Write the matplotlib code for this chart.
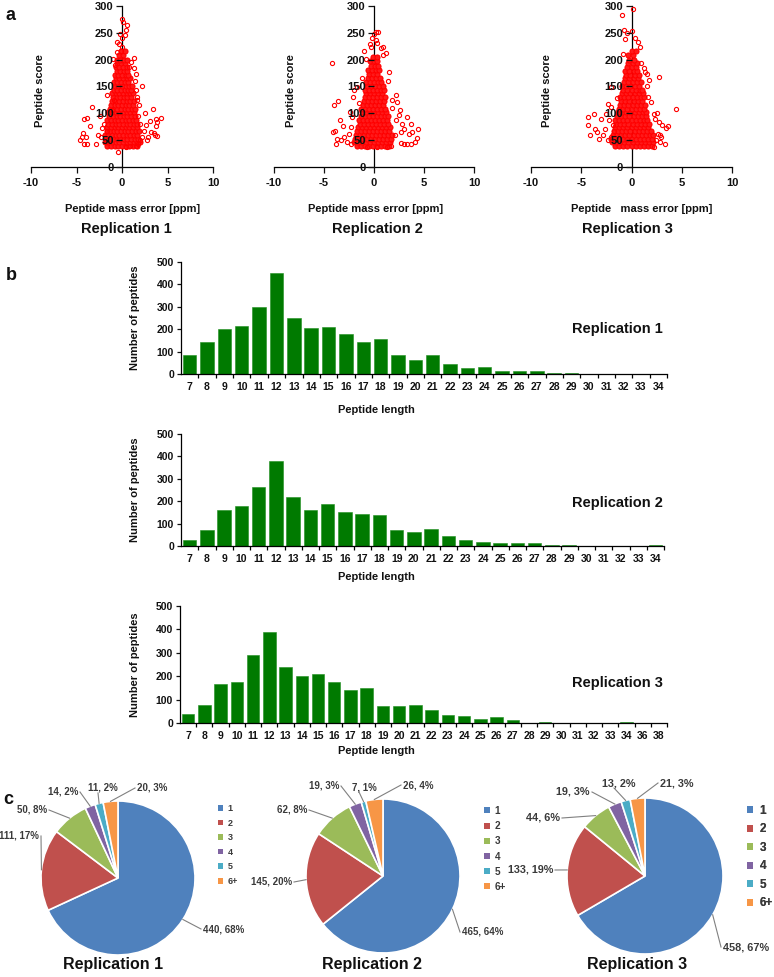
import numpy as np
import matplotlib
matplotlib.use("Agg")
import matplotlib.pyplot as plt
from matplotlib import font_manager
from matplotlib.patches import Patch

# ======================= DATA =======================
# (a) Peptide score vs mass error: dense core rows + outliers
rep1_core_y = [40, 46, 53, 60, 67, 74, 81, 88, 95, 102, 109, 116, 123, 130, 137,
               144, 151, 158, 165, 172, 179, 186, 193, 200, 208, 216]
rep1_core_x = [
    [-1.6, -1.2, -0.8, -0.4, 0.0, 0.4, 0.8, 1.2, 1.6],
    [-1.9, -1.5, -1.1, -0.7, -0.3, 0.1, 0.5, 0.9, 1.3, 1.7, 2.0],
    [-1.8, -1.4, -1.0, -0.6, -0.2, 0.2, 0.6, 1.0, 1.4, 1.8],
    [-1.9, -1.5, -1.1, -0.7, -0.3, 0.1, 0.5, 0.9, 1.3, 1.7],
    [-1.7, -1.3, -0.9, -0.5, -0.1, 0.3, 0.7, 1.1, 1.5, 1.9],
    [-1.6, -1.2, -0.8, -0.4, 0.0, 0.4, 0.8, 1.2, 1.6],
    [-1.5, -1.1, -0.7, -0.3, 0.1, 0.5, 0.9, 1.3, 1.7],
    [-1.6, -1.2, -0.8, -0.4, 0.0, 0.4, 0.8, 1.2, 1.5],
    [-1.4, -1.0, -0.6, -0.2, 0.2, 0.6, 1.0, 1.4],
    [-1.5, -1.1, -0.7, -0.3, 0.1, 0.5, 0.9, 1.3],
    [-1.3, -0.9, -0.5, -0.1, 0.3, 0.7, 1.1, 1.4],
    [-1.2, -0.8, -0.4, 0.0, 0.4, 0.8, 1.2],
    [-1.1, -0.7, -0.3, 0.1, 0.5, 0.9, 1.3],
    [-1.0, -0.6, -0.2, 0.2, 0.6, 1.0],
    [-1.1, -0.7, -0.3, 0.1, 0.5, 0.9, 1.2],
    [-0.9, -0.5, -0.1, 0.3, 0.7, 1.0],
    [-0.8, -0.4, 0.0, 0.4, 0.8, 1.1],
    [-0.9, -0.5, -0.1, 0.3, 0.7],
    [-0.7, -0.3, 0.1, 0.5, 0.9],
    [-0.8, -0.4, 0.0, 0.4, 0.7],
    [-0.6, -0.2, 0.2, 0.6],
    [-0.7, -0.3, 0.1, 0.5],
    [-0.5, -0.1, 0.3],
    [-0.6, -0.2, 0.2, 0.5],
    [-0.3, 0.1],
    [-0.1, 0.3],
]
rep1_out_x = [0.0, 0.07, 0.55, 0.44, -0.2, 0.3, -0.6, 0.0, -0.5, -0.15,
              1.35, -1.0, 2.2, 1.5, 1.6, 3.4, 4.3, 3.7, 3.9, 3.7,
              3.1, 3.5, 3.2, 3.8, 3.6, 2.9, 2.7, -3.25, -3.8, -4.2,
              -3.5, -4.3, -4.4, -4.6, -4.2, -3.8, -4.0, -2.9, -2.3, -1.8,
              -0.4, -1.7, -2.0, -0.9, -1.05, 2.0, 2.4, 2.2, 1.7, 1.5,
              1.4, 0.8, 0.95, 0.0, -0.3, 1.75, 2.0, 1.5, 0.85, 0.4,
              2.5, -2.4, 1.9, -1.6, 1.3, -0.8, 2.6, -2.6, 1.8, -2.2]
rep1_out_y = [275, 270, 264, 255, 248, 246, 233, 241, 214, 217,
              204, 202, 150, 173, 130, 109, 92, 90, 83, 76,
              86, 63, 66, 57, 60, 55, 50, 111, 92, 89,
              76, 64, 55, 50, 43, 43, 56, 43, 56, 47,
              28, 68, 81, 124, 106, 81, 68, 56, 124, 143,
              161, 186, 196, 224, 230, 43, 50, 40, 40, 38,
              100, 95, 115, 135, 185, 190, 78, 60, 95, 72]

rep2_core_y = [40, 46, 53, 60, 67, 74, 81, 88, 95, 102, 109, 116, 123, 130, 137,
               144, 151, 158, 165, 173, 181, 189, 197, 205]
rep2_core_x = [
    [-1.7, -1.3, -0.9, -0.5, -0.1, 0.3, 0.7, 1.1, 1.5],
    [-2.0, -1.6, -1.2, -0.8, -0.4, 0.0, 0.4, 0.8, 1.2, 1.6],
    [-1.9, -1.5, -1.1, -0.7, -0.3, 0.1, 0.5, 0.9, 1.3, 1.7],
    [-1.8, -1.4, -1.0, -0.6, -0.2, 0.2, 0.6, 1.0, 1.4, 1.8],
    [-1.7, -1.3, -0.9, -0.5, -0.1, 0.3, 0.7, 1.1, 1.5],
    [-1.6, -1.2, -0.8, -0.4, 0.0, 0.4, 0.8, 1.2, 1.6],
    [-1.4, -1.0, -0.6, -0.2, 0.2, 0.6, 1.0, 1.4],
    [-1.5, -1.1, -0.7, -0.3, 0.1, 0.5, 0.9, 1.3],
    [-1.3, -0.9, -0.5, -0.1, 0.3, 0.7, 1.1, 1.4],
    [-1.2, -0.8, -0.4, 0.0, 0.4, 0.8, 1.2],
    [-1.3, -0.9, -0.5, -0.1, 0.3, 0.7, 1.1],
    [-1.1, -0.7, -0.3, 0.1, 0.5, 0.9],
    [-1.0, -0.6, -0.2, 0.2, 0.6, 1.0],
    [-0.9, -0.5, -0.1, 0.3, 0.7, 1.1],
    [-0.8, -0.4, 0.0, 0.4, 0.8],
    [-0.9, -0.5, -0.1, 0.3, 0.7, 1.0],
    [-0.7, -0.3, 0.1, 0.5, 0.9],
    [-0.8, -0.4, 0.0, 0.4, 0.7],
    [-0.6, -0.2, 0.2, 0.6],
    [-0.5, -0.1, 0.3],
    [-0.6, -0.2, 0.2, 0.5],
    [-0.3, 0.1, 0.4],
    [-0.4, 0.0, 0.3],
    [-0.1, 0.3],
]
rep2_out_x = [0.23, 0.0, 0.43, -0.17, 0.17, 0.33, 0.67, 0.87, -0.4, -0.27,
              1.17, 0.93, -4.17, 1.5, -1.0, -0.83, 2.17, 1.83, 2.33, 2.6,
              2.5, 3.33, 3.67, 4.4, 2.83, 3.0, 2.67, 3.83, 3.5, 4.33,
              4.07, 3.67, 3.33, 3.0, 2.67, -3.6, -4.0, -3.4, -3.1, -3.93,
              -4.07, -3.67, -3.8, -3.33, -3.0, -2.67, -2.33, -2.0, -2.07, -1.67,
              -2.4, -2.17, 1.67, 1.33, 0.33, -0.67,
              2.2, -2.3, 1.8, -1.5, 2.1, -2.5, 1.4, -1.2]
rep2_out_y = [252, 248, 252, 241, 236, 231, 222, 223, 230, 224,
              213, 208, 194, 177, 217, 202, 134, 124, 121, 106,
              96, 94, 81, 71, 81, 71, 65, 65, 62, 54,
              47, 43, 42, 43, 44, 123, 116, 87, 76, 68,
              65, 53, 43, 50, 56, 47, 42, 143, 130, 149,
              102, 93, 40, 37, 37, 37,
              88, 75, 110, 120, 60, 62, 160, 165]

rep3_core_y = [40, 46, 53, 60, 67, 74, 81, 88, 95, 102, 109, 116, 123, 130, 137,
               144, 151, 158, 165, 172, 179, 186, 193, 200, 208, 216]
rep3_core_x = [
    [-1.6, -1.2, -0.8, -0.4, 0.0, 0.4, 0.8, 1.2, 1.6, 2.0],
    [-1.9, -1.5, -1.1, -0.7, -0.3, 0.1, 0.5, 0.9, 1.3, 1.7, 2.1],
    [-2.0, -1.6, -1.2, -0.8, -0.4, 0.0, 0.4, 0.8, 1.2, 1.6, 2.0],
    [-1.8, -1.4, -1.0, -0.6, -0.2, 0.2, 0.6, 1.0, 1.4, 1.8, 2.1],
    [-1.7, -1.3, -0.9, -0.5, -0.1, 0.3, 0.7, 1.1, 1.5, 1.9],
    [-1.6, -1.2, -0.8, -0.4, 0.0, 0.4, 0.8, 1.2, 1.6],
    [-1.5, -1.1, -0.7, -0.3, 0.1, 0.5, 0.9, 1.3, 1.7],
    [-1.6, -1.2, -0.8, -0.4, 0.0, 0.4, 0.8, 1.2, 1.5],
    [-1.4, -1.0, -0.6, -0.2, 0.2, 0.6, 1.0, 1.4],
    [-1.3, -0.9, -0.5, -0.1, 0.3, 0.7, 1.1, 1.4],
    [-1.2, -0.8, -0.4, 0.0, 0.4, 0.8, 1.2],
    [-1.1, -0.7, -0.3, 0.1, 0.5, 0.9, 1.3],
    [-1.0, -0.6, -0.2, 0.2, 0.6, 1.0],
    [-1.1, -0.7, -0.3, 0.1, 0.5, 0.9, 1.2],
    [-0.9, -0.5, -0.1, 0.3, 0.7, 1.1],
    [-0.8, -0.4, 0.0, 0.4, 0.8, 1.0],
    [-0.9, -0.5, -0.1, 0.3, 0.7],
    [-0.7, -0.3, 0.1, 0.5, 0.9],
    [-0.6, -0.2, 0.2, 0.6],
    [-0.5, -0.1, 0.3, 0.7],
    [-0.6, -0.2, 0.2, 0.5],
    [-0.4, 0.0, 0.4],
    [-0.3, 0.1, 0.5],
    [-0.2, 0.2],
    [-0.3, 0.1],
    [0.0, 0.4],
]
rep3_out_x = [0.1, -0.95, -0.72, -0.46, 0.0, -0.62, 0.33, 0.65, 0.85, -0.85,
              0.92, 1.24, 1.73, 2.7, 1.3, 1.57, -2.03, 1.9, 2.2, 2.55,
              4.44, 2.7, 3.04, 3.46, 3.6, 2.6, 2.8, 2.94, 3.37, 2.88,
              2.22, -4.3, -4.36, -3.73, -3.0, -3.66, -4.15, -3.4, -3.27, -2.84,
              -2.6, -2.35, -2.03, -2.5, -2.03, -2.35, -1.86, -1.7,
              2.3, -2.2, 1.6, -1.4, 2.4, 1.5]
rep3_out_y = [294, 284, 256, 250, 253, 239, 241, 232, 224, 211,
              193, 184, 163, 168, 177, 173, 149, 121, 99, 101,
              109, 84, 78, 73, 76, 62, 59, 56, 42, 47,
              37, 93, 79, 98, 90, 70, 60, 65, 53, 60,
              71, 50, 56, 99, 112, 118, 78, 68,
              90, 88, 130, 128, 50, 150]

# (b) Peptide length distributions
rep1_lengths = [str(v) for v in range(7, 35)]
rep1_counts = [85, 141, 199, 214, 298, 452, 248, 207, 210, 179, 144, 155, 85, 64,
               85, 43, 25, 30, 12, 12, 12, 4, 4, 0, 0, 0, 0, 0]
rep2_lengths = [str(v) for v in range(7, 35)]
rep2_counts = [28, 70, 161, 179, 262, 378, 220, 161, 189, 153, 144, 140, 70, 64,
               74, 46, 25, 18, 12, 12, 12, 4, 4, 0, 0, 0, 0, 4]
rep3_lengths = [str(v) for v in range(7, 35)] + ["36", "38"]
rep3_counts = [38, 78, 165, 175, 292, 390, 238, 201, 208, 175, 140, 148, 74, 74,
               78, 56, 34, 31, 17, 24, 13, 0, 5, 0, 0, 0, 0, 4, 0, 0]

# (c) pie categories
pie_labels = ["1", "2", "3", "4", "5", "6+"]
rep1_pie = [440, 111, 50, 14, 11, 20]
rep1_pct = [68, 17, 8, 2, 2, 3]
rep2_pie = [465, 145, 62, 19, 7, 26]
rep2_pct = [64, 20, 8, 3, 1, 4]
rep3_pie = [458, 133, 44, 19, 13, 21]
rep3_pct = [67, 19, 6, 3, 2, 3]
pie_colors = ["#4F81BD", "#C0504D", "#9BBB59", "#8064A2", "#4BACC6", "#F79646"]

# ======================= STYLE / LAYOUT =======================
W, H = 774, 977
names = {f.name for f in font_manager.fontManager.ttflist}
BASE = "Liberation Sans" if "Liberation Sans" in names else "DejaVu Sans"
plt.rcParams["font.family"] = [BASE, "DejaVu Sans"]
plt.rcParams["font.weight"] = "bold"
plt.rcParams["axes.labelweight"] = "bold"
plt.rcParams["axes.unicode_minus"] = False
plt.rcParams["axes.linewidth"] = 0.9
TXT = "#111111"

fig = plt.figure(figsize=(W / 100, H / 100), dpi=100)


def ax_px(l, t, r, b):
    return fig.add_axes([l / W, 1 - b / H, (r - l) / W, (b - t) / H])


def ftext(x, y, s, **kw):
    fig.text(x / W, 1 - y / H, s, **kw)


def flatten_rows(core_y, core_x):
    xs, ys = [], []
    for y, row in zip(core_y, core_x):
        for x in row:
            xs.append(x)
            ys.append(y)
    return xs, ys


# ---------------- (a) scatter panels ----------------
scatter_sets = [
    (flatten_rows(rep1_core_y, rep1_core_x), (rep1_out_x, rep1_out_y), 31, 213, 40, 133,
     "Peptide mass error [ppm]", 126, "Replication 1"),
    (flatten_rows(rep2_core_y, rep2_core_x), (rep2_out_x, rep2_out_y), 274, 474, 291, 376,
     "Peptide mass error [ppm]", 377, "Replication 2"),
    (flatten_rows(rep3_core_y, rep3_core_x), (rep3_out_x, rep3_out_y), 531, 732, 547, 642,
     "Peptide   mass error [ppm]", 627, "Replication 3"),
]
for (cx_, cy_), (ox, oy), l, r, ylx, xlx, xlab, tx, title in scatter_sets:
    ax = ax_px(l, 6, r, 167)
    ax.patch.set_alpha(0)
    ax.plot(cx_, cy_, "o", ms=3.6, mfc="#FF1A1A", mec="#FF0000", mew=0.8,
            zorder=2, clip_on=False)
    ax.plot(ox, oy, "o", ms=3.0, mfc="none", mec="#FF0000", mew=0.8,
            zorder=2, clip_on=False)
    ax.set_xlim(-10, 10)
    ax.set_ylim(0, 300)
    ax.spines["left"].set_position(("data", 0))
    ax.spines["left"].set_zorder(1)
    ax.spines[["top", "right"]].set_visible(False)
    ax.set_axisbelow(False)
    ax.set_xticks([-10, -5, 0, 5, 10])
    ax.set_yticks(range(0, 301, 50))
    ax.tick_params(direction="out", length=4, width=0.9, labelsize=8,
                   pad=2, colors=TXT)
    ax.tick_params(axis="x", pad=4)
    ftext(ylx, 91, "Peptide score", rotation=90, ha="center", va="center",
          fontsize=8, color=TXT)
    ftext(xlx, 209, xlab, ha="center", va="center", fontsize=8, color=TXT)
    ftext(tx, 229, title, ha="center", va="center", fontsize=10.5, color=TXT)

ftext(10, 15, "a", ha="center", va="center", fontsize=13, color=TXT)

# ---------------- (b) bar panels ----------------
bar_sets = [
    (rep1_lengths, rep1_counts, (181, 262, 667, 374), 410, 329, "Replication 1"),
    (rep2_lengths, rep2_counts, (181, 434, 664, 546), 577, 503, "Replication 2"),
    (rep3_lengths, rep3_counts, (180, 606, 667, 723), 751, 683, "Replication 3"),
]
for cats, vals, (l, t, r, b), xly, ty, title in bar_sets:
    ax = ax_px(l, t, r, b)
    ax.patch.set_alpha(0)
    x = np.arange(len(cats))
    ax.bar(x, vals, width=0.77, color="#007A00", edgecolor="#1E8F1E", linewidth=0.4)
    ax.set_xlim(-0.5, len(cats) - 0.5)
    ax.set_ylim(0, 500)
    ax.spines[["top", "right"]].set_visible(False)
    ax.set_xticks(x)
    ax.set_xticklabels(cats)
    ax.set_xticks(x + 0.5, minor=True)
    ax.tick_params(axis="x", which="major", length=0, pad=6, labelsize=7.5, colors=TXT)
    ax.tick_params(axis="x", which="minor", length=3, width=0.9, direction="out")
    ax.set_yticks(range(0, 501, 100))
    ax.tick_params(axis="y", length=3, width=0.9, direction="out", pad=2,
                   labelsize=7.5, colors=TXT)
    ax.set_ylabel("Number of peptides", fontsize=8, color=TXT)
    ax.yaxis.set_label_coords((140 - l) / (r - l), 0.5)
    ax.set_xlabel("Peptide length", fontsize=8, color=TXT)
    ax.xaxis.set_label_coords((376 - l) / (r - l), (b - xly) / (b - t))
    ax.xaxis.label.set_va("center")
    ax.text((617 - l) / (r - l), (b - ty) / (b - t), title, transform=ax.transAxes,
            ha="center", va="center", fontsize=10.5, color=TXT)

ftext(11, 275, "b", ha="center", va="center", fontsize=13, color=TXT)

# ---------------- (c) pies ----------------
pax = fig.add_axes([0, 0, 1, 1])
pax.patch.set_alpha(0)
pie_sets = [
    (rep1_pie, rep1_pct, 118, 878, 77,
     [(203, 929, "left"), (39, 836, "right"), (47, 810, "right"),
      (78, 792, "right"), (103, 788, "center"), (137, 788, "left")],
     7.0, (218, 804), 6.5, 0.62, 113, "Replication 1"),
    (rep2_pie, rep2_pct, 383, 876, 77,
     [(462, 932, "left"), (292, 882, "right"), (307, 810, "right"),
      (339, 786, "right"), (364, 787, "center"), (403, 785, "left")],
     7.0, (484, 806), 7.2, 0.52, 372, "Replication 2"),
    (rep3_pie, rep3_pct, 645, 876, 78,
     [(723, 947, "left"), (553, 870, "right"), (560, 818, "right"),
      (590, 792, "right"), (619, 783, "center"), (660, 783, "left")],
     7.8, (747, 805), 8.5, 0.55, 637, "Replication 3"),
]
for vals, pct, cx, cy, rad, lay, lfs, (lgx, lgy), gfs, gls, ttx, title in pie_sets:
    wedges, _ = pax.pie(vals, colors=pie_colors, startangle=90, counterclock=False,
                        center=(cx, H - cy), radius=rad,
                        wedgeprops=dict(edgecolor="white", linewidth=1.2))
    for w, v, p, (tx, ty, ha) in zip(wedges, vals, pct, lay):
        ang = np.deg2rad((w.theta1 + w.theta2) / 2)
        ex, ey = cx + rad * np.cos(ang), (H - cy) + rad * np.sin(ang)
        if ha == "right":
            px, py = tx + 2, H - ty
        elif ha == "left":
            px, py = tx - 2, H - ty
        else:
            px, py = tx - 5, H - ty - 5
        pax.plot([ex, px], [ey, py], color="#808080", lw=0.8)
        pax.text(tx, H - ty, f"{v}, {p}%", ha=ha, va="center", fontsize=lfs,
                 color="#3A3A3A")
    handles = [Patch(facecolor=c, edgecolor="none") for c in pie_colors]
    leg = pax.legend(handles, pie_labels, loc="upper left",
                     bbox_to_anchor=(lgx / W, 1 - lgy / H),
                     bbox_transform=fig.transFigure, frameon=False, fontsize=gfs,
                     handlelength=0.55, handleheight=0.55, handletextpad=0.5,
                     labelspacing=gls, borderaxespad=0, borderpad=0,
                     labelcolor="#3A3A3A")
    pax.add_artist(leg)
    pax.text(ttx, H - 965, title, ha="center", va="center", fontsize=11.5,
             color=TXT)

pax.set_xlim(0, W)
pax.set_ylim(0, H)
pax.set_axis_off()

ftext(8, 800, "c", ha="center", va="center", fontsize=13, color=TXT)

fig.savefig("out.png", dpi=100)
